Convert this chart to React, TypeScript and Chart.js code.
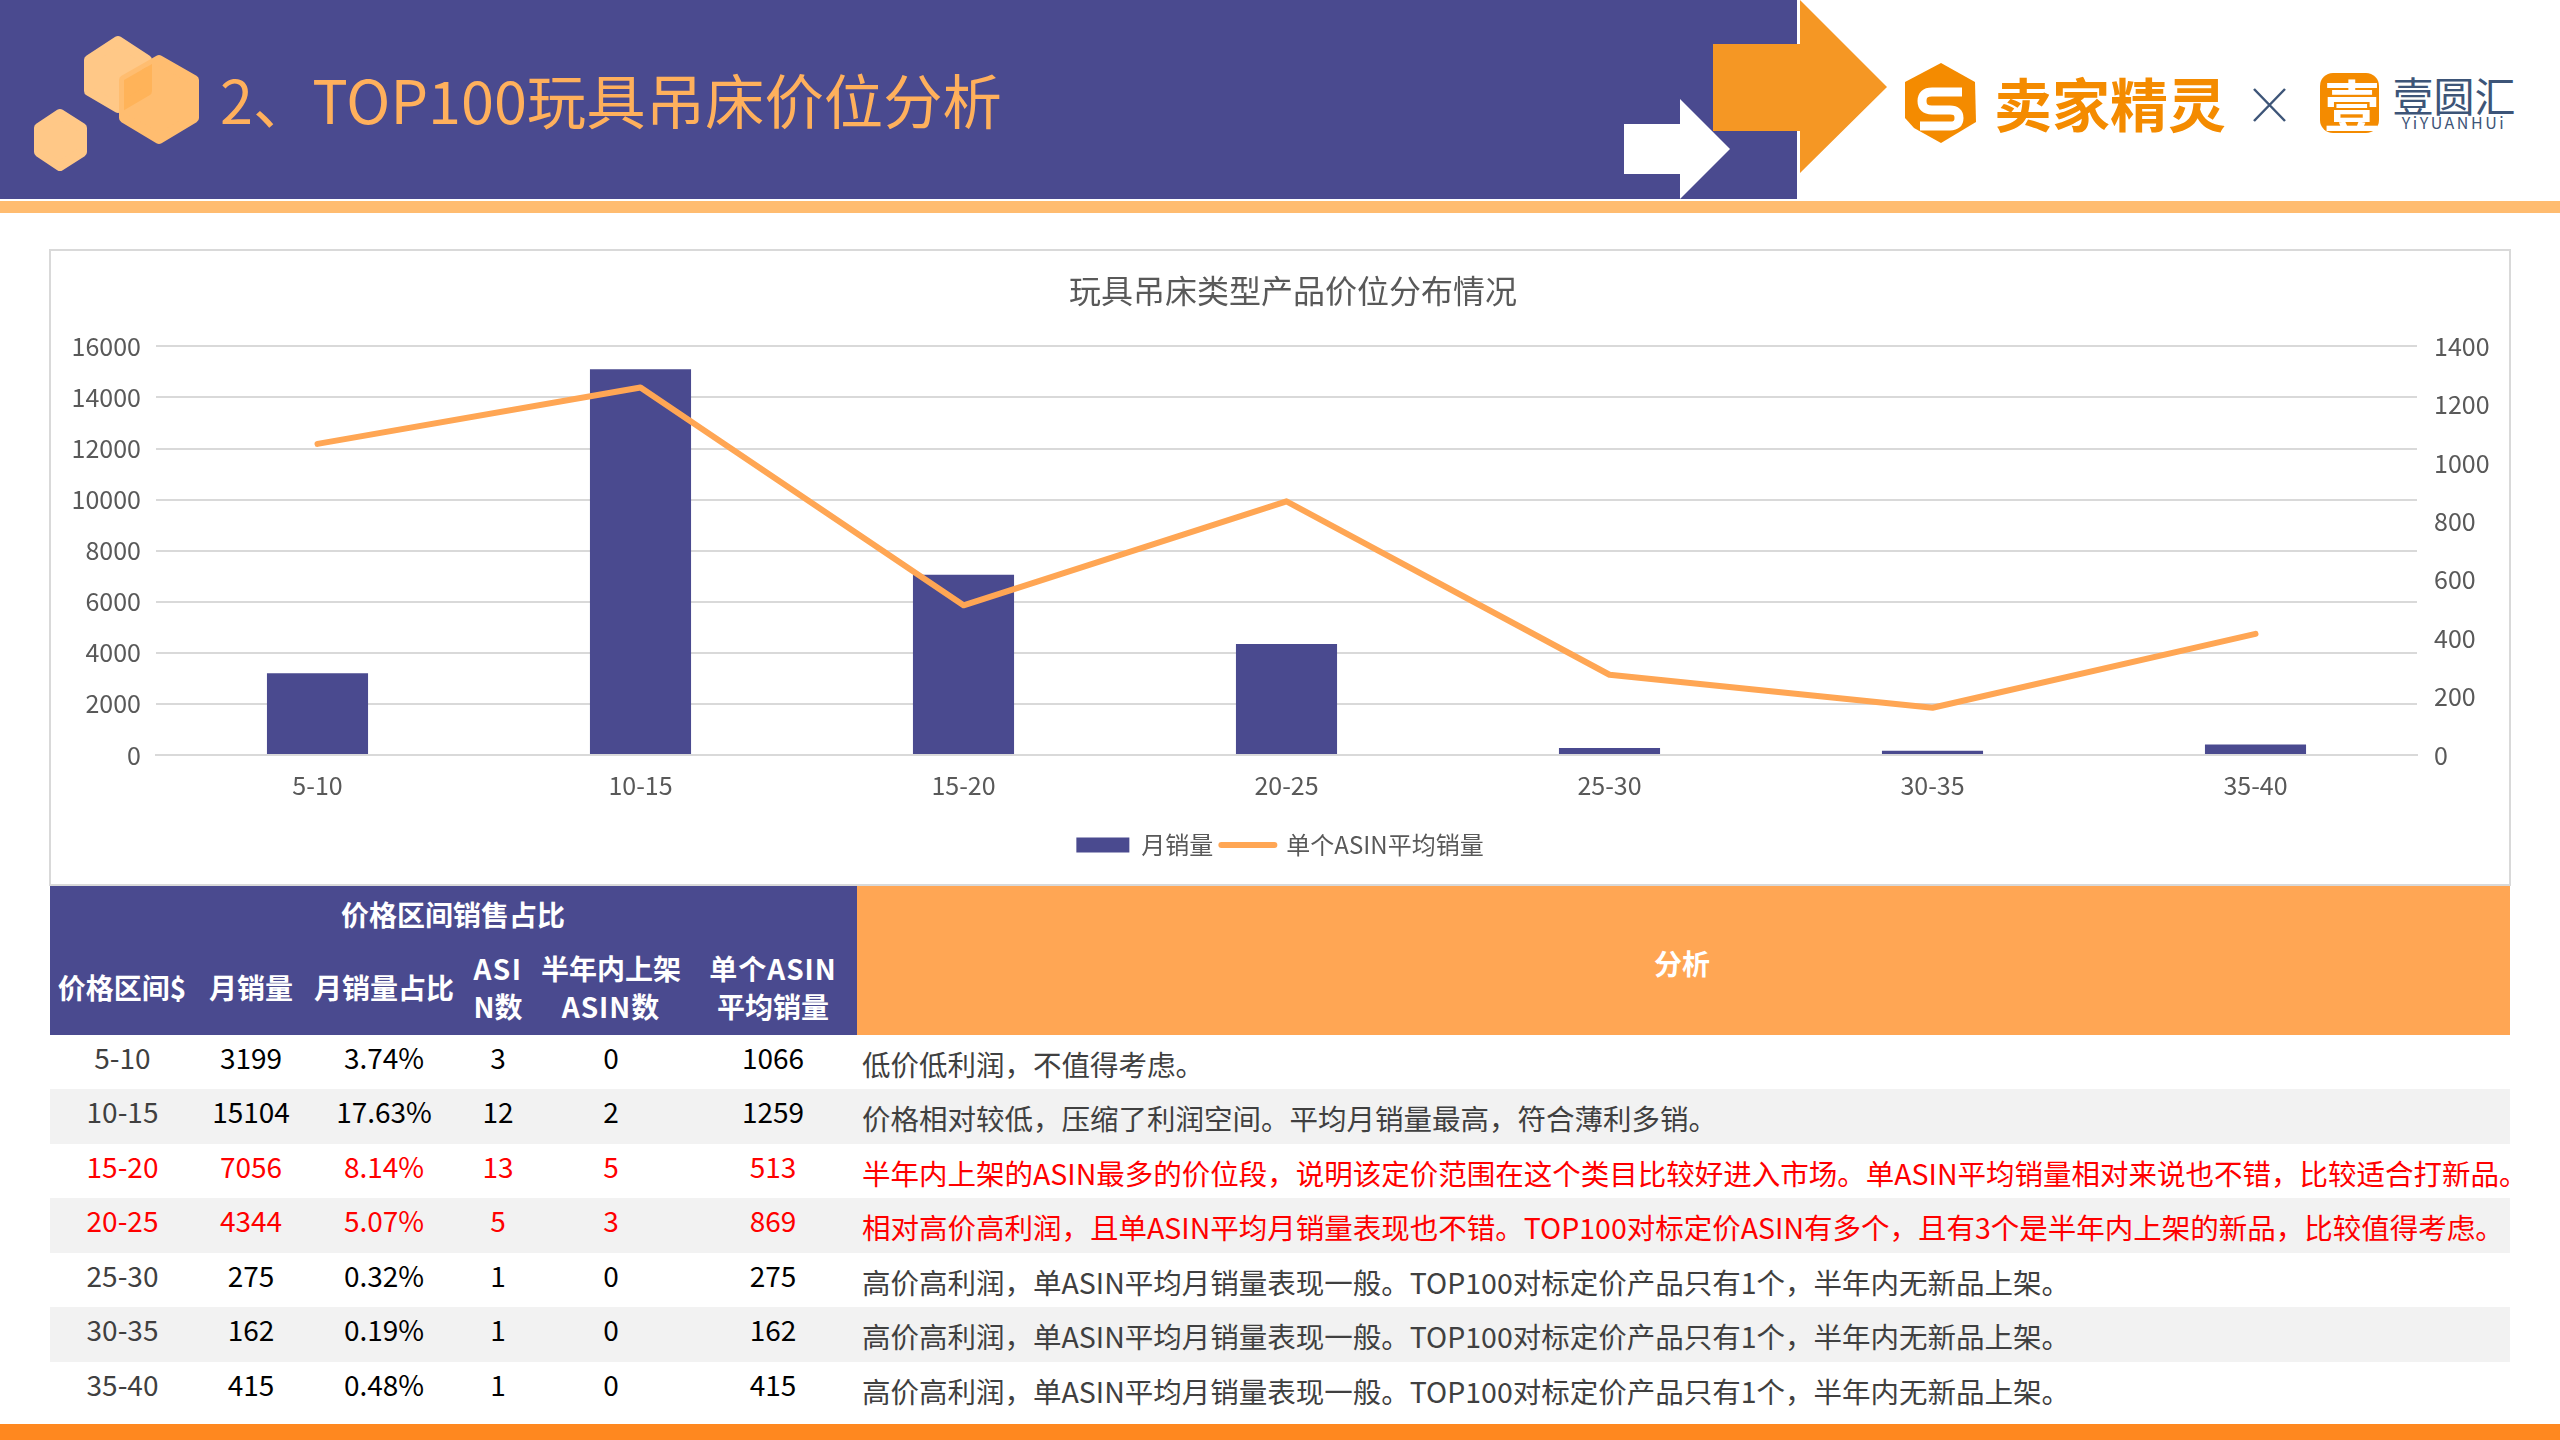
import React, { useEffect, useRef } from "react";
import { Chart, registerables } from "chart.js";

Chart.register(...registerables);

const FONT = '"Noto Sans CJK SC", "Noto Sans", sans-serif';
const PURPLE = "#4A4A8F";
const ORANGE = "#FFA654";

const chartTitle = "玩具吊床类型产品价位分布情况";
const priceBands = ["5-10", "10-15", "15-20", "20-25", "25-30", "30-35", "35-40"];
const monthlySales = [3199, 15104, 7056, 4344, 275, 162, 415];
const avgSalesPerAsin = [1066, 1259, 513, 869, 275, 162, 415];
const salesShare = ["3.74%", "17.63%", "8.14%", "5.07%", "0.32%", "0.19%", "0.48%"];
const asinCount = [3, 12, 13, 5, 1, 1, 1];
const newAsinCount = [0, 2, 5, 3, 0, 0, 0];
const redRows = [2, 3];
const analysis = [
  "低价低利润，不值得考虑。",
  "价格相对较低，压缩了利润空间。平均月销量最高，符合薄利多销。",
  "半年内上架的ASIN最多的价位段，说明该定价范围在这个类目比较好进入市场。单ASIN平均销量相对来说也不错，比较适合打新品。",
  "相对高价高利润，且单ASIN平均月销量表现也不错。TOP100对标定价ASIN有多个，且有3个是半年内上架的新品，比较值得考虑。",
  "高价高利润，单ASIN平均月销量表现一般。TOP100对标定价产品只有1个，半年内无新品上架。",
  "高价高利润，单ASIN平均月销量表现一般。TOP100对标定价产品只有1个，半年内无新品上架。",
  "高价高利润，单ASIN平均月销量表现一般。TOP100对标定价产品只有1个，半年内无新品上架。",
];
const rowTops = [1035, 1089, 1144, 1198, 1253, 1307, 1362];
const colCenters = [122.5, 251, 384, 498, 611, 773];

function T(props: { x: number; y: number; size: number; color: string; bold?: boolean; align?: string; children: any; extra?: any }) {
  const { x, y, size, color, bold, align, children, extra } = props;
  const tx = align === "left" ? "0" : "-50%";
  return (
    <div
      style={{
        position: "absolute",
        left: x,
        top: y,
        transform: `translate(${tx}, -50%)`,
        fontFamily: FONT,
        fontSize: size,
        lineHeight: 1.2,
        fontWeight: bold ? 700 : 400,
        color,
        whiteSpace: "nowrap",
        ...extra,
      }}
    >
      {children}
    </div>
  );
}

function Box(props: { x: number; y: number; w: number; h: number; c: string }) {
  return <div style={{ position: "absolute", left: props.x, top: props.y, width: props.w, height: props.h, background: props.c }} />;
}

const shiftTitle = {
  id: "shiftTitle",
  beforeDraw(chart: any) {
    const t = chart.titleBlock;
    if (t) {
      t.left = 26;
      t.right = chart.width;
    }
  },
};

function ChartPanel() {
  const ref = useRef<HTMLCanvasElement>(null);
  useEffect(() => {
    const chart = new Chart(ref.current!, {
      type: "bar",
      plugins: [shiftTitle],
      data: {
        labels: priceBands,
        datasets: [
          {
            type: "line",
            label: "单个ASIN平均销量",
            data: avgSalesPerAsin,
            yAxisID: "y2",
            borderColor: ORANGE,
            backgroundColor: ORANGE,
            borderWidth: 6,
            pointRadius: 0,
            tension: 0,
            borderCapStyle: "round",
            borderJoinStyle: "round",
            order: 0,
          },
          {
            type: "bar",
            label: "月销量",
            data: monthlySales,
            yAxisID: "y",
            backgroundColor: PURPLE,
            borderWidth: 0,
            barPercentage: 1,
            categoryPercentage: 0.313,
            order: 1,
          },
        ],
      } as any,
      options: {
        animation: false,
        responsive: false,
        maintainAspectRatio: false,
        layout: { padding: { left: 0, right: 0, top: 0, bottom: 17 } },
        plugins: {
          title: {
            display: true,
            text: chartTitle,
            color: "#595959",
            font: { family: FONT, size: 32, weight: "normal" as any },
            padding: { top: 21, bottom: 36 },
          },
          tooltip: { enabled: false },
          legend: {
            position: "bottom",
            reverse: true,
            labels: {
              color: "#595959",
              font: { family: FONT, size: 24 },
              usePointStyle: true,
              pointStyleWidth: 53,
              boxHeight: 15,
              padding: 8,
              generateLabels: (c: any) =>
                c.data.datasets.map((d: any, i: number) => ({
                  text: d.label,
                  fontColor: "#595959",
                  fillStyle: d.type === "bar" ? d.backgroundColor : "transparent",
                  strokeStyle: d.type === "bar" ? "transparent" : d.borderColor,
                  lineWidth: d.type === "bar" ? 0 : 6,
                  lineCap: "round",
                  pointStyle: d.type === "bar" ? "rect" : "line",
                  datasetIndex: i,
                  hidden: false,
                })),
            },
          },
        },
        scales: {
          x: {
            grid: { display: false, drawTicks: false },
            border: { display: true, color: "#D9D9D9", width: 2 },
            ticks: { color: "#595959", font: { family: FONT, size: 25 }, padding: 15, maxRotation: 0 },
            afterFit: (s: any) => { s.height = 70; },
          },
          y: {
            position: "left",
            min: 0,
            max: 16000,
            grid: { color: "#D9D9D9", lineWidth: 2, drawTicks: false },
            border: { display: false },
            ticks: { stepSize: 2000, color: "#595959", font: { family: FONT, size: 25 }, padding: 15, callback: (v: any) => String(v) },
            afterFit: (s: any) => { s.width = 105; },
          },
          y2: {
            position: "right",
            min: 0,
            max: 1400,
            grid: { display: false, drawTicks: false },
            border: { display: false },
            ticks: { stepSize: 200, color: "#595959", font: { family: FONT, size: 25 }, padding: 17, callback: (v: any) => String(v) },
            afterFit: (s: any) => { s.width = 92; },
          },
        },
      },
    } as any);
    return () => chart.destroy();
  }, []);
  return <canvas ref={ref} width={2458} height={633} style={{ position: "absolute", left: 51, top: 251, width: 2458, height: 633 }} />;
}

const hexA = "118,41 147,60 147,91 118,108 89,91 89,60";
const hexB = "159,60 194,80 194,118 159,139 124,118 124,80";
const hexC = "60,114 82,128 82,152 60,166 39,152 39,128";

export default function App() {
  return (
    <div style={{ position: "absolute", left: 0, top: 0, width: 2560, height: 1440, background: "#fff", overflow: "hidden" }}>
      <Box x={0} y={0} w={1797} h={199} c={PURPLE} />
      <Box x={0} y={201} w={2560} h={12} c="#FFBC70" />
      <svg width={2560} height={215} style={{ position: "absolute", left: 0, top: 0 }}>
        <defs>
          <clipPath id="hexBClip">
            <polygon points={hexB} stroke="#000" strokeWidth={10} />
          </clipPath>
        </defs>
        <polygon points={hexA} fill="#FFC887" stroke="#FFC887" strokeWidth={10} strokeLinejoin="round" />
        <polygon points={hexB} fill="#FFBD70" stroke="#FFBD70" strokeWidth={10} strokeLinejoin="round" />
        <g clipPath="url(#hexBClip)">
          <polygon points={hexA} fill="#FFB359" stroke="#FFB359" strokeWidth={10} strokeLinejoin="round" />
        </g>
        <polygon points={hexC} fill="#FFC887" stroke="#FFC887" strokeWidth={10} strokeLinejoin="round" />
        <polygon points="1713,44 1800,44 1800,0 1887,87 1800,173 1800,131 1713,131" fill="#F59724" />
        <polygon points="1624,124 1680,124 1680,99 1730,149 1680,199 1680,174 1624,174" fill="#FFFFFF" />
        <polygon points="1941,63 1975,82 1976,122 1941,143 1914,128 1905,118 1905,82" fill="#F48B00" />
        <path d="M1962 92 L1932 92 Q1922 92 1922 101 Q1922 110 1932 110 L1950 110 Q1959 110 1959 118 Q1959 126 1950 126 L1920 126" fill="none" stroke="#fff" strokeWidth={9} />
        <path d="M2254 89 L2285 121 M2285 89 L2254 121" stroke="#3D5578" strokeWidth={2.5} fill="none" />
        <rect x={2320} y={73} width={59} height={60} rx={13} fill="#F48B00" />
      </svg>
      <T x={220} y={99} size={59.4} color="#FFB05C" align="left">2、TOP100玩具吊床价位分析</T>
      <T x={2110} y={103} size={58} color="#F48B00" bold>卖家精灵</T>
      <T x={2352} y={103} size={56} color="#FFFFFF" bold>壹</T>
      <T x={2454} y={95} size={41} color="#3D5578">壹圆汇</T>
      <T x={2454} y={123} size={16} color="#3D5578" extra={{ letterSpacing: 2.6 }}>YiYUANHUi</T>

      <div style={{ position: "absolute", left: 49, top: 249, width: 2458, height: 633, border: "2px solid #D9D9D9" }} />
      <ChartPanel />

      <Box x={50} y={886} w={807} h={149} c={PURPLE} />
      <Box x={857} y={886} w={1653} h={149} c={ORANGE} />
      <T x={453} y={915} size={28} color="#fff" bold>价格区间销售占比</T>
      <T x={122} y={988} size={28} color="#fff" bold>价格区间$</T>
      <T x={251} y={988} size={28} color="#fff" bold>月销量</T>
      <T x={384} y={988} size={28} color="#fff" bold>月销量占比</T>
      <T x={498} y={969} size={28} color="#fff" bold extra={{ letterSpacing: 1.5 }}>ASI</T>
      <T x={498} y={1007} size={28} color="#fff" bold>N数</T>
      <T x={611} y={969} size={28} color="#fff" bold>半年内上架</T>
      <T x={611} y={1007} size={28} color="#fff" bold extra={{ letterSpacing: 1 }}>ASIN数</T>
      <T x={773} y={969} size={28} color="#fff" bold extra={{ letterSpacing: 1 }}>单个ASIN</T>
      <T x={773} y={1007} size={28} color="#fff" bold>平均销量</T>
      <T x={1682} y={964} size={28} color="#fff" bold>分析</T>

      {priceBands.map((band, i) => {
        const top = rowTops[i];
        const red = redRows.includes(i);
        const num = red ? "#FF0000" : "#000000";
        const cells = [band, monthlySales[i], salesShare[i], asinCount[i], newAsinCount[i], avgSalesPerAsin[i]];
        return (
          <React.Fragment key={band}>
            {i % 2 === 1 && <Box x={50} y={top} w={2460} h={55} c="#F2F2F2" />}
            {cells.map((c, j) => (
              <T key={j} x={colCenters[j]} y={top + 23} size={28} color={j === 0 && !red ? "#404040" : num}>{c}</T>
            ))}
            <T x={862} y={top + 29} size={28.5} color={red ? "#FF0000" : "#404040"} align="left">{analysis[i]}</T>
          </React.Fragment>
        );
      })}
      <Box x={0} y={1424} w={2560} h={16} c="#FF881F" />
    </div>
  );
}
